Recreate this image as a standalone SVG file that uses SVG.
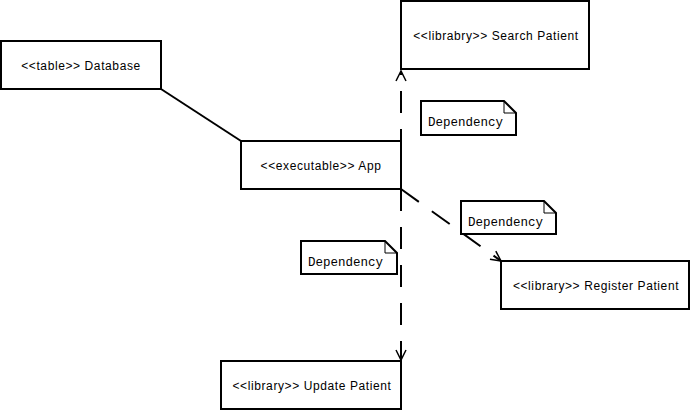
<svg xmlns="http://www.w3.org/2000/svg" width="691" height="412" viewBox="0 0 691 412">
<style>
.box{fill:#fff;stroke:#000;stroke-width:2}
.lbl{font-family:"Liberation Sans",Arial,sans-serif;font-size:12px;letter-spacing:0.6px;fill:#000;text-anchor:middle}
.note{fill:#fff;stroke:#000;stroke-width:2}
.fold{fill:none;stroke:#000;stroke-width:1}
.ntxt{font-family:"Liberation Mono","Courier New",monospace;font-size:12.5px;fill:#000}
.solid{fill:none;stroke:#000;stroke-width:2}
.dash{fill:none;stroke:#000;stroke-width:2;stroke-dasharray:22,16}
</style>
<defs>
<marker id="open" markerUnits="userSpaceOnUse" markerWidth="14" markerHeight="14" refX="11" refY="6" orient="auto">
<path d="M1,1 L11,6 L1,11" fill="none" stroke="#000" stroke-width="1.5"/>
</marker>
</defs>
<rect width="691" height="412" fill="#fff"/>
<g id="connectors">
<line class="solid" x1="161" y1="89" x2="241" y2="141"/>
<line class="dash" x1="401" y1="189" x2="401" y2="71" marker-end="url(#open)"/>
<line class="dash" x1="401" y1="189" x2="401" y2="360" marker-end="url(#open)"/>
<line class="dash" x1="401" y1="189" x2="501" y2="261" marker-end="url(#open)"/>
</g>
<g id="database">
<rect class="box" x="1" y="41" width="160" height="48"/>
<text class="lbl" x="81" y="70">&lt;&lt;table&gt;&gt; Database</text>
</g>
<g id="app">
<rect class="box" x="241" y="141" width="160" height="48"/>
<text class="lbl" x="321" y="170">&lt;&lt;executable&gt;&gt; App</text>
</g>
<g id="search-patient">
<rect class="box" x="401" y="1" width="188" height="68"/>
<text class="lbl" x="496" y="40">&lt;&lt;librabry&gt;&gt; Search Patient</text>
</g>
<g id="register-patient">
<rect class="box" x="501" y="261" width="188" height="48"/>
<text class="lbl" x="596" y="290">&lt;&lt;library&gt;&gt; Register Patient</text>
</g>
<g id="update-patient">
<rect class="box" x="221" y="361" width="180" height="48"/>
<text class="lbl" x="312" y="390">&lt;&lt;library&gt;&gt; Update Patient</text>
</g>
<g id="note1">
<path class="note" d="M421,101 H504 L516,113 V135 H421 Z"/>
<path class="fold" d="M504,101 V113 H516"/>
<text class="ntxt" x="428" y="126">Dependency</text>
</g>
<g id="note2">
<path class="note" d="M461,201 H544 L556,213 V234 H461 Z"/>
<path class="fold" d="M544,201 V213 H556"/>
<text class="ntxt" x="468" y="226">Dependency</text>
</g>
<g id="note3">
<path class="note" d="M301,241 H385 L397,253 V274 H301 Z"/>
<path class="fold" d="M385,241 V253 H397"/>
<text class="ntxt" x="308" y="266">Dependency</text>
</g>
</svg>
